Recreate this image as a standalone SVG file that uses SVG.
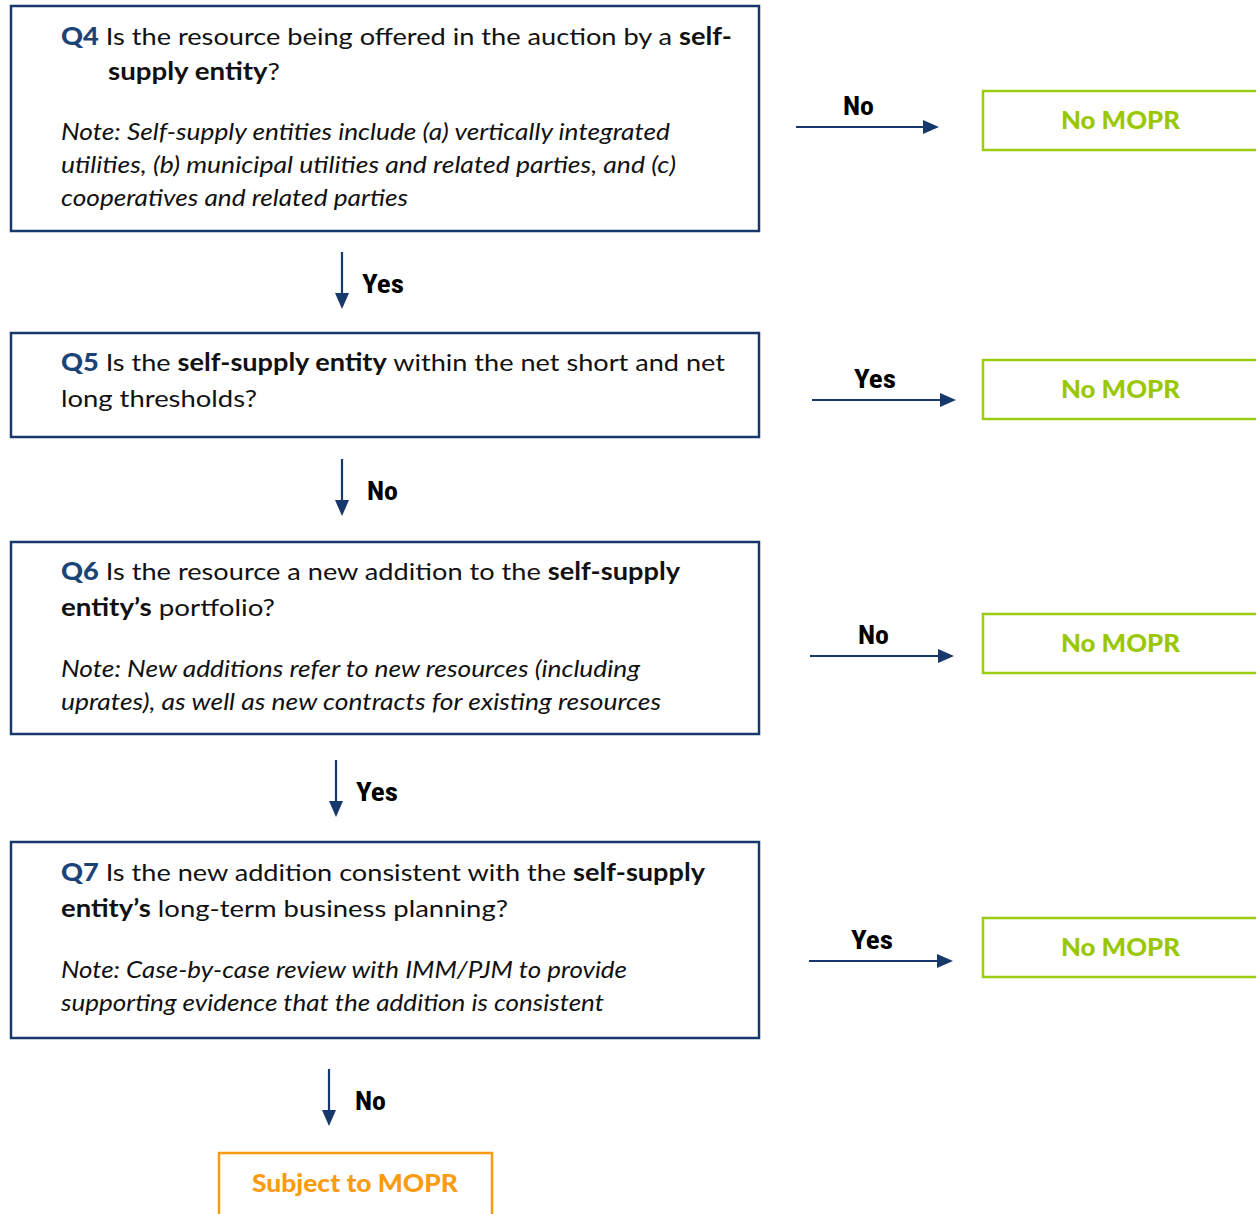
<svg xmlns="http://www.w3.org/2000/svg" width="1256" height="1214" viewBox="0 0 1256 1214">
<style>
.box{fill:#fff;stroke:#16386A;stroke-width:2.5}
.gbox{fill:#fff;stroke:#9ACD0F;stroke-width:2.5}
.obox{fill:#fff;stroke:#FB9B12;stroke-width:2.5}
.t{font-family:Lato,"Open Sans","Liberation Sans",sans-serif;font-size:24px;fill:#111}
.b{font-weight:bold}
.q{font-weight:900;fill:#1A4478}
.i{font-style:italic}
.lbl{font-family:"Liberation Sans Narrow","Roboto Condensed","Liberation Sans",sans-serif;font-weight:bold;font-size:25px;fill:#000}
.g{font-family:Lato,"Open Sans","Liberation Sans",sans-serif;font-weight:900;font-size:25px;fill:#99C800}
.o{font-family:Lato,"Open Sans","Liberation Sans",sans-serif;font-weight:900;font-size:25px;fill:#FB9B12}
.ln{stroke:#16386A;stroke-width:2.2;fill:none}
.hd{fill:#16386A}
</style>
<defs>
<path id="hdown" class="hd" d="M-7,-16 L7,-16 L0,0 Z"/>
<path id="hright" class="hd" d="M-16,-7 L-16,7 L0,0 Z"/>
</defs>
<rect width="1256" height="1214" fill="#fff"/>

<g id="q4">
<rect class="box" x="11" y="6" width="748" height="225"/>
<text class="t" x="61" y="45" textLength="671" lengthAdjust="spacingAndGlyphs"><tspan class="q">Q4</tspan> Is the resource being offered in the auction by a <tspan class="b">self-</tspan></text>
<text class="t" x="108" y="80" textLength="172" lengthAdjust="spacingAndGlyphs"><tspan class="b">supply entity</tspan>?</text>
<text class="t i" x="61" y="140" textLength="609" lengthAdjust="spacingAndGlyphs">Note: Self-supply entities include (a) vertically integrated</text>
<text class="t i" x="61" y="173" textLength="615" lengthAdjust="spacingAndGlyphs">utilities, (b) municipal utilities and related parties, and (c)</text>
<text class="t i" x="61" y="206" textLength="347" lengthAdjust="spacingAndGlyphs">cooperatives and related parties</text>
</g>

<g id="q5">
<rect class="box" x="11" y="333" width="748" height="104"/>
<text class="t" x="61" y="371" textLength="664" lengthAdjust="spacingAndGlyphs"><tspan class="q">Q5</tspan> Is the <tspan class="b">self-supply entity</tspan> within the net short and net</text>
<text class="t" x="61" y="407" textLength="196" lengthAdjust="spacingAndGlyphs">long thresholds?</text>
</g>

<g id="q6">
<rect class="box" x="11" y="542" width="748" height="192"/>
<text class="t" x="61" y="580" textLength="619" lengthAdjust="spacingAndGlyphs"><tspan class="q">Q6</tspan> Is the resource a new addition to the <tspan class="b">self-supply</tspan></text>
<text class="t" x="61" y="616" textLength="214" lengthAdjust="spacingAndGlyphs"><tspan class="b">entity’s</tspan> portfolio?</text>
<text class="t i" x="61" y="677" textLength="579" lengthAdjust="spacingAndGlyphs">Note: New additions refer to new resources (including</text>
<text class="t i" x="61" y="710" textLength="600" lengthAdjust="spacingAndGlyphs">uprates), as well as new contracts for existing resources</text>
</g>

<g id="q7">
<rect class="box" x="11" y="842" width="748" height="196"/>
<text class="t" x="61" y="881" textLength="644" lengthAdjust="spacingAndGlyphs"><tspan class="q">Q7</tspan> Is the new addition consistent with the <tspan class="b">self-supply</tspan></text>
<text class="t" x="61" y="917" textLength="447" lengthAdjust="spacingAndGlyphs"><tspan class="b">entity’s</tspan> long-term business planning?</text>
<text class="t i" x="61" y="978" textLength="566" lengthAdjust="spacingAndGlyphs">Note: Case-by-case review with IMM/PJM to provide</text>
<text class="t i" x="61" y="1011" textLength="543" lengthAdjust="spacingAndGlyphs">supporting evidence that the addition is consistent</text>
</g>

<g id="nomopr1">
<rect class="gbox" x="983" y="91" width="300" height="59"/>
<text class="g" x="1061" y="129" textLength="119" lengthAdjust="spacingAndGlyphs">No MOPR</text>
</g>
<g id="nomopr2">
<rect class="gbox" x="983" y="360" width="300" height="59"/>
<text class="g" x="1061" y="398" textLength="119" lengthAdjust="spacingAndGlyphs">No MOPR</text>
</g>
<g id="nomopr3">
<rect class="gbox" x="983" y="614" width="300" height="59"/>
<text class="g" x="1061" y="652" textLength="119" lengthAdjust="spacingAndGlyphs">No MOPR</text>
</g>
<g id="nomopr4">
<rect class="gbox" x="983" y="918" width="300" height="59"/>
<text class="g" x="1061" y="956" textLength="119" lengthAdjust="spacingAndGlyphs">No MOPR</text>
</g>
<g id="subject">
<rect class="obox" x="219" y="1153" width="273" height="80"/>
<text class="o" x="252" y="1192" textLength="206" lengthAdjust="spacingAndGlyphs">Subject to MOPR</text>
</g>

<g id="connectors">
<line class="ln" x1="342" y1="252" x2="342" y2="294"/>
<use href="#hdown" x="342" y="309"/>
<line class="ln" x1="342" y1="459" x2="342" y2="501"/>
<use href="#hdown" x="342" y="516"/>
<line class="ln" x1="336" y1="760" x2="336" y2="802"/>
<use href="#hdown" x="336" y="817"/>
<line class="ln" x1="329" y1="1069" x2="329" y2="1111"/>
<use href="#hdown" x="329" y="1126"/>
<line class="ln" x1="796" y1="127" x2="924" y2="127"/>
<use href="#hright" x="939" y="127"/>
<line class="ln" x1="812" y1="400" x2="941" y2="400"/>
<use href="#hright" x="956" y="400"/>
<line class="ln" x1="810" y1="656" x2="939" y2="656"/>
<use href="#hright" x="954" y="656"/>
<line class="ln" x1="809" y1="961" x2="938" y2="961"/>
<use href="#hright" x="953" y="961"/>
<text class="lbl" x="362" y="293" textLength="42" lengthAdjust="spacingAndGlyphs">Yes</text>
<text class="lbl" x="367" y="500" textLength="31" lengthAdjust="spacingAndGlyphs">No</text>
<text class="lbl" x="356" y="801" textLength="42" lengthAdjust="spacingAndGlyphs">Yes</text>
<text class="lbl" x="355" y="1110" textLength="31" lengthAdjust="spacingAndGlyphs">No</text>
<text class="lbl" x="843" y="115" textLength="31" lengthAdjust="spacingAndGlyphs">No</text>
<text class="lbl" x="854" y="388" textLength="42" lengthAdjust="spacingAndGlyphs">Yes</text>
<text class="lbl" x="858" y="644" textLength="31" lengthAdjust="spacingAndGlyphs">No</text>
<text class="lbl" x="851" y="949" textLength="42" lengthAdjust="spacingAndGlyphs">Yes</text>
</g>
</svg>
